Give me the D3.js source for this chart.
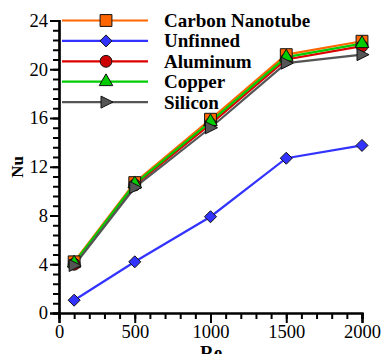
<!DOCTYPE html>
<html>
<head>
<meta charset="utf-8">
<script src="https://cdn.jsdelivr.net/npm/d3@7"></script>
<style>
  body { margin: 0; background: #fff; }
</style>
</head>
<body>
<div class="canvas"></div>
<script>
// Data
const reynolds = [100, 500, 1000, 1500, 2000]
const carbonNanotube = [4.2, 10.7, 15.9, 21.2, 22.3]
const unfinned = [1.05, 4.2, 7.9, 12.7, 13.75]
const aluminum = [4.0, 10.5, 15.5, 20.8, 21.9]
const copper = [4.1, 10.6, 15.7, 21.0, 22.1]
const silicon = [3.9, 10.3, 15.2, 20.5, 21.2]
const xTicks = [0, 500, 1000, 1500, 2000]
const yTicks = [0, 4, 8, 12, 16, 20, 24]

const series = [
  {name: 'Carbon Nanotube', values: carbonNanotube, color: '#ff6600', fill: '#ff6600', marker: 'square'},
  {name: 'Unfinned', values: unfinned, color: '#3333ff', fill: '#3333ff', marker: 'diamond'},
  {name: 'Aluminum', values: aluminum, color: '#dd0000', fill: '#cc0000', marker: 'circle'},
  {name: 'Copper', values: copper, color: '#00cc00', fill: '#00cc00', marker: 'triangle'},
  {name: 'Silicon', values: silicon, color: '#555555', fill: '#555555', marker: 'right'}
]

const serif = 'Liberation Serif'

const svg = d3.select('.canvas')
  .append('svg')
    .attr('width', 382)
    .attr('height', 354)

const x = d3.scaleLinear().domain([0, 2000]).range([59, 362])
const y = d3.scaleLinear().domain([0, 24]).range([313, 20.5])

// Minor ticks first, then majors with labels
svg.append('g')
  .attr('transform', 'translate(0,313)')
  .call(d3.axisBottom(x).tickValues(d3.range(0, 2001, 100)).tickSize(6).tickFormat(''))
svg.append('g')
  .attr('transform', 'translate(0,313)')
  .call(d3.axisBottom(x).tickValues(xTicks).tickSize(10).tickPadding(2).tickFormat(d3.format('d')))
svg.append('g')
  .attr('transform', 'translate(59,0)')
  .call(d3.axisLeft(y).tickValues(d3.range(0, 24.01, 0.8)).tickSize(6).tickFormat(''))
svg.append('g')
  .attr('transform', 'translate(59,0)')
  .call(d3.axisLeft(y).tickValues(yTicks).tickSize(9).tickPadding(2))

svg.selectAll('g').attr('font-family', serif)
svg.selectAll('.domain').attr('stroke', '#000').attr('stroke-width', 2.2)
svg.selectAll('.tick line').attr('stroke', '#000').attr('stroke-width', 2)
svg.selectAll('.tick text')
  .attr('font-size', 18.5)
  .attr('fill', '#000')
  .attr('font-family', serif)

// Axis titles
svg.append('text')
  .attr('x', 211).attr('y', 359)
  .attr('text-anchor', 'middle')
  .attr('font-family', serif)
  .attr('font-size', 19).attr('font-weight', 'bold')
  .text('Re')
svg.append('text')
  .attr('transform', 'translate(23,167) rotate(-90)')
  .attr('text-anchor', 'middle')
  .attr('font-family', serif)
  .attr('font-size', 17).attr('font-weight', 'bold')
  .text('Nu')

// Marker shapes
const symbols = {
  square: d3.symbol(d3.symbolSquare, 140),
  circle: d3.symbol(d3.symbolCircle, 110),
  triangle: d3.symbol(d3.symbolTriangle, 80)
}
const drawMarker = (g, s) => {
  if (s.marker === 'right') {
    return g.append('path').attr('d', 'M-5,-6L7,0L-5,6Z')
  }
  if (s.marker === 'diamond') {
    return g.append('path').attr('d', 'M0,-6L6,0L0,6L-6,0Z')
  }
  return g.append('path').attr('d', symbols[s.marker]())
}

const line = d3.line()
  .x((d, i) => x(reynolds[i]))
  .y((d) => y(d))

series.forEach((s) => {
  svg.append('path')
    .datum(s.values)
    .attr('fill', 'none')
    .attr('stroke', s.color)
    .attr('stroke-width', 2.2)
    .attr('d', line)
})

series.forEach((s) => {
  s.values.forEach((v, i) => {
    const g = svg.append('g')
      .attr('transform', `translate(${x(reynolds[i])},${y(v)})`)
    drawMarker(g, s)
      .attr('fill', s.fill)
      .attr('stroke', '#111')
      .attr('stroke-width', 1)
  })
})

// Legend (no background box)
const legend = svg.append('g')
series.forEach((s, i) => {
  const ly = 20.5 + i * 20.4
  legend.append('line')
    .attr('x1', 62).attr('x2', 148)
    .attr('y1', ly).attr('y2', ly)
    .attr('stroke', s.color).attr('stroke-width', 2.2)
  const g = legend.append('g').attr('transform', `translate(106,${ly})`)
  drawMarker(g, s)
    .attr('fill', s.fill)
    .attr('stroke', '#111')
    .attr('stroke-width', 1)
  legend.append('text')
    .attr('x', 164).attr('y', ly + 6.5)
    .attr('font-family', serif)
    .attr('font-size', 19).attr('font-weight', 'bold')
    .text(s.name)
})
</script>
</body>
</html>
